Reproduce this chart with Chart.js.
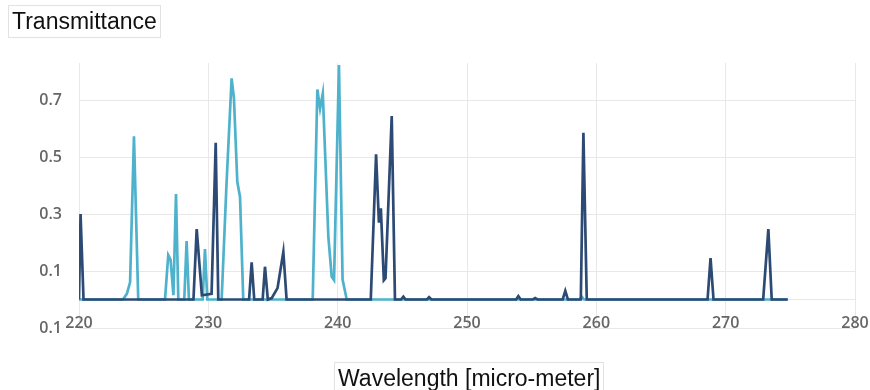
<!DOCTYPE html>
<html>
<head>
<meta charset="utf-8">
<script src="https://cdn.jsdelivr.net/npm/chart.js@4"></script>
<style>
  body { margin: 0; background: #fff; }
  #wrap { position: relative; width: 870px; height: 390px; overflow: hidden; }
  #chart { position: absolute; left: 0; top: 0; }
  .caption {
    position: absolute;
    font-family: "Liberation Sans", Arial, sans-serif;
    font-size: 23px;
    color: #111;
    border: 1px solid #e2e2e2;
    padding: 0 3px;
    line-height: 31px;
    white-space: nowrap;
  }
  #ytitle { left: 8px; top: 5px; }
  #xtitle { left: 334px; top: 362px; }
</style>
</head>
<body>
<div id="wrap">
  <canvas id="chart" width="870" height="390"></canvas>
  <div class="caption" id="ytitle">Transmittance</div>
  <div class="caption" id="xtitle">Wavelength [micro-meter]</div>
</div>
<script>
// Dark series
const darkX = [220, 220.12, 220.35, 228.85, 229.1, 229.5, 230.25, 230.57, 230.77,
  233.15, 233.35, 233.55, 234.2, 234.38, 234.6, 234.9, 235.35, 235.8, 236.05,
  242.56, 242.97, 243.19, 243.34, 243.57, 243.7, 244.18, 244.43,
  244.9, 245.08, 245.25, 246.9, 247.07, 247.25, 253.8, 253.97, 254.15,
  255.1, 255.27, 255.45, 257.4, 257.6, 257.8, 258.8, 259.0, 259.26,
  268.6, 268.83, 269.06, 272.9, 273.3, 273.56, 274.8];
const darkY = [0, 0.30, 0, 0, 0.247, 0.015, 0.02, 0.55, 0,
  0, 0.13, 0, 0, 0.115, 0, 0.005, 0.04, 0.167, 0,
  0, 0.51, 0.27, 0.32, 0.068, 0.075, 0.644, 0,
  0, 0.01, 0, 0, 0.008, 0, 0, 0.012, 0,
  0, 0.005, 0, 0, 0.03, 0, 0, 0.585, 0,
  0, 0.145, 0, 0, 0.247, 0, 0];

// Light series
const cyanX = [220, 223.4, 223.7, 223.95, 224.25, 224.58,
  226.65, 226.9, 227.08, 227.3, 227.5, 227.68, 228.14, 228.32, 228.5,
  229.56, 229.74, 229.92, 231.03, 231.4, 231.8, 231.98, 232.24, 232.45, 232.7,
  238.07, 238.43, 238.64, 238.85, 239.28, 239.54, 239.72, 240.1, 240.38, 240.7,
  258.7, 258.87, 259.05, 274.8];
const cyanY = [0, 0, 0.02, 0.06, 0.573, 0,
  0, 0.156, 0.14, 0.015, 0.37, 0, 0, 0.205, 0,
  0, 0.177, 0, 0, 0.4, 0.776, 0.706, 0.413, 0.36, 0,
  0, 0.737, 0.67, 0.723, 0.22, 0.08, 0.068, 0.823, 0.07, 0,
  0, 0.01, 0, 0];

// Axis ticks
const xTicks = [220, 230, 240, 250, 260, 270, 280];
const yTicks = [-0.1, 0, 0.1, 0.3, 0.5, 0.7];
const yTickLabels = ['0.1', '', '0.1', '0.3', '0.5', '0.7'];

const toPoints = (xs, ys) => xs.map((x, i) => ({ x: x, y: ys[i] }));
const tickFont = { family: '"Open Sans", sans-serif', size: 16, weight: '600' };
const gridColor = '#e8e8e8';

const ctx = document.getElementById('chart').getContext('2d');
new Chart(ctx, {
  type: 'line',
  data: {
    datasets: [
      {
        data: toPoints(darkX, darkY),
        borderColor: '#2c4a73',
        borderWidth: 2.7,
        pointRadius: 0,
        tension: 0,
        order: 0
      },
      {
        data: toPoints(cyanX, cyanY),
        borderColor: '#4eb2cc',
        borderWidth: 2.7,
        pointRadius: 0,
        tension: 0,
        order: 1
      }
    ]
  },
  options: {
    responsive: false,
    animation: false,
    layout: { padding: { top: 63, left: 0, right: 15, bottom: 0 } },
    plugins: { legend: { display: false }, tooltip: { enabled: false } },
    scales: {
      x: {
        type: 'linear',
        min: 220,
        max: 280,
        afterBuildTicks: (scale) => { scale.ticks = xTicks.map(v => ({ value: v })); },
        afterFit: (scale) => {
          scale.height = 62;
          scale.paddingLeft = 0;
          scale.paddingRight = 0;
        },
        grid: { color: gridColor, drawTicks: false },
        border: { display: false },
        // labels sit just above the bottom grid line, like the original
        ticks: { font: tickFont, color: '#666', mirror: true, padding: -5, maxRotation: 0 }
      },
      y: {
        min: -0.1,
        max: 0.83,
        afterBuildTicks: (scale) => { scale.ticks = yTicks.map(v => ({ value: v })); },
        afterFit: (scale) => { scale.width = 79; },
        grid: { color: gridColor, drawTicks: false },
        border: { display: false },
        ticks: {
          font: tickFont,
          color: '#666',
          padding: 17,
          callback: (value, index) => yTickLabels[index]
        }
      }
    }
  }
});
</script>
</body>
</html>
